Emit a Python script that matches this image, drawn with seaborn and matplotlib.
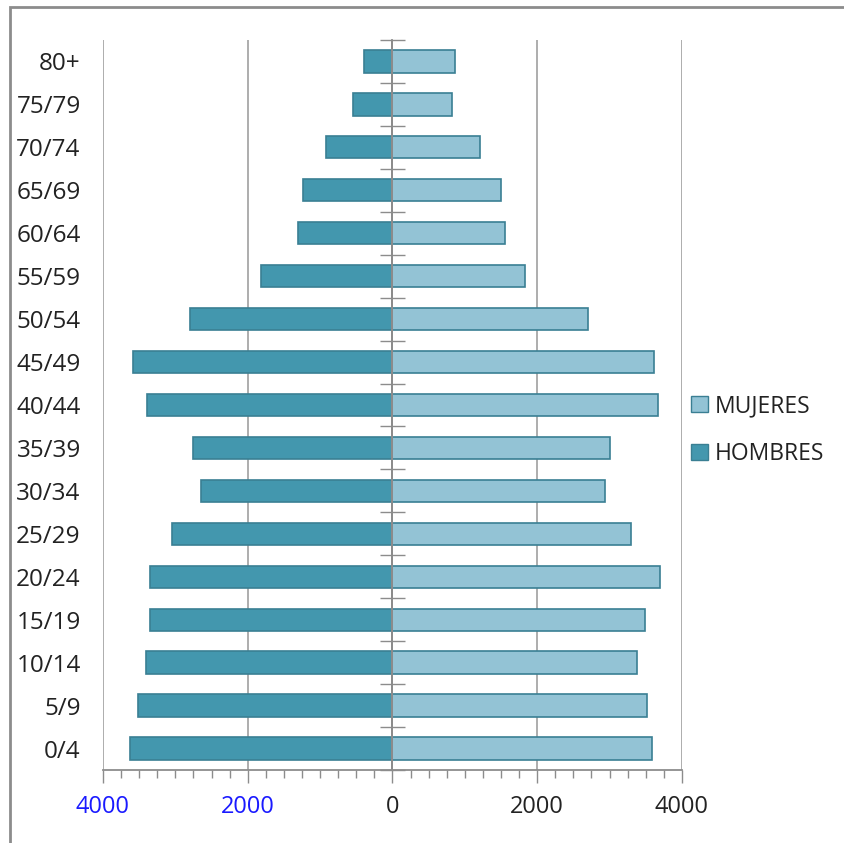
import matplotlib
matplotlib.use("Agg")
import matplotlib.pyplot as plt
import matplotlib.patches as mpatches
from matplotlib.ticker import FuncFormatter, MultipleLocator
import pandas as pd
import seaborn as sns

# age groups, top to bottom
age_groups = ["80+", "75/79", "70/74", "65/69", "60/64", "55/59", "50/54", "45/49",
              "40/44", "35/39", "30/34", "25/29", "20/24", "15/19", "10/14", "5/9", "0/4"]
hombres = [400, 540, 925, 1230, 1310, 1810, 2800, 3580,
           3385, 2750, 2640, 3050, 3355, 3355, 3400, 3520, 3630]
mujeres = [860, 825, 1215, 1500, 1550, 1835, 2700, 3620,
           3675, 3010, 2940, 3290, 3690, 3495, 3385, 3515, 3590]

df = pd.concat([
    pd.DataFrame({"edad": age_groups, "valor": mujeres, "sexo": "MUJERES"}),
    pd.DataFrame({"edad": age_groups, "valor": [-v for v in hombres], "sexo": "HOMBRES"}),
])

sns.set_style("white")
plt.rcParams["font.family"] = ["Open Sans", "DejaVu Sans"]

fig = plt.figure(figsize=(8.44, 8.43), dpi=100)
ax = fig.add_axes([0.122, 0.0866, 0.686, 0.866])

palette = {"MUJERES": "#93c3d5", "HOMBRES": "#4397ae"}
sns.barplot(data=df, x="valor", y="edad", hue="sexo", order=age_groups,
            hue_order=["MUJERES", "HOMBRES"], palette=palette, orient="h",
            dodge=False, width=0.52, saturation=1, ax=ax, legend=False,
            edgecolor="#3a7f93", linewidth=1.2)

ax.set_xlim(-4000, 4000)
ax.set_ylim(16.5, -0.5)
ax.set_xlabel("")
ax.set_ylabel("")

# x axis: gridlines every 2000, minor ticks every 250
ax.xaxis.set_major_locator(MultipleLocator(2000))
ax.xaxis.set_minor_locator(MultipleLocator(250))
ax.xaxis.set_major_formatter(FuncFormatter(lambda v, p: f"{abs(int(v))}"))
ax.tick_params(axis="x", which="major", direction="out", length=9, width=1,
               color="#8c8c8c", labelsize=17, pad=9, bottom=True)
ax.tick_params(axis="x", which="minor", direction="out", length=6, width=1,
               color="#8c8c8c", bottom=True)
for lab in ax.get_xticklabels():
    if float(lab.get_position()[0]) < 0:
        lab.set_color("#1a1aff")
    else:
        lab.set_color("#222222")
ax.grid(True, axis="x", which="major", color="#a0a0a0", linewidth=1.2)
ax.set_axisbelow(True)

# y labels on the left, no tick marks
ax.tick_params(axis="y", length=0, labelsize=17.5, pad=16, labelcolor="#222222")

for side in ["top", "right", "left"]:
    ax.spines[side].set_visible(False)
ax.spines["bottom"].set_color("#8c8c8c")
ax.spines["bottom"].set_linewidth(1.3)

# zero axis over the bars
ax.axvline(0, color="#8c8c8c", linewidth=1.3, zorder=5)

# category boundary ticks on the zero axis
sec = ax.secondary_yaxis(0.5)
sec.set_yticks([i - 0.5 for i in range(len(age_groups) + 1)])
sec.set_yticklabels([])
sec.tick_params(axis="y", direction="inout", length=18, width=1, color="#8c8c8c")
for sp in sec.spines.values():
    sp.set_color("#8c8c8c")
    sp.set_linewidth(1.3)
sec.set_zorder(6)

handles = [mpatches.Patch(facecolor=palette["MUJERES"], edgecolor="#3a7f93", label="MUJERES"),
           mpatches.Patch(facecolor=palette["HOMBRES"], edgecolor="#3a7f93", label="HOMBRES")]
fig.legend(handles=handles, loc="center left", bbox_to_anchor=(0.794, 0.49),
           frameon=False, fontsize=16.5, handlelength=0.75, handleheight=0.75,
           handletextpad=0.3, labelspacing=1.05, labelcolor="#222222")

# outer chart frame
fig.patches.append(mpatches.Rectangle((10 / 844, -0.05), 1.0, 1 - 7 / 843 + 0.05,
                                      transform=fig.transFigure, fill=False,
                                      edgecolor="#8c8c8c", linewidth=2))

fig.savefig("out.png", dpi=100)
